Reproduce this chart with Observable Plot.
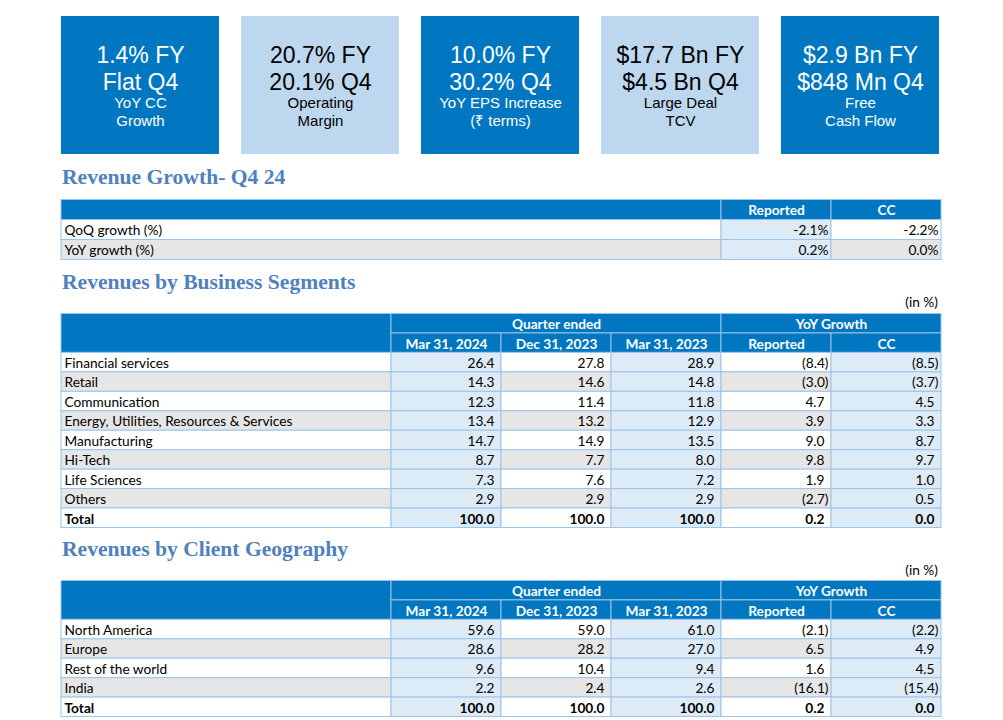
<!DOCTYPE html>
<html>
<head>
<meta charset="utf-8">
<script src="https://cdn.jsdelivr.net/npm/d3@7"></script>
<script src="https://cdn.jsdelivr.net/npm/@observablehq/plot@0.6"></script>
<style>
  body { margin: 0; background: #fff; }
  #page { position: relative; width: 1003px; height: 720px; overflow: hidden; }
  .blk { position: absolute; left: 0; }
  .title { position: absolute; left: 62px; font-family: "Liberation Serif", serif; font-weight: bold; font-size: 21.6px; line-height: 22px; color: #4f81bd; white-space: nowrap; }
  .unit { position: absolute; right: 65px; font-family: Lato, sans-serif; font-size: 13.7px; line-height: 14px; color: #000; }
  svg { display: block; }
</style>
</head>
<body>
<div id="page">
  <div class="blk" id="kpi" style="top:0"></div>
  <div class="title" style="top:166px">Revenue Growth- Q4 24</div>
  <div class="blk" id="t1" style="top:199px"></div>
  <div class="title" style="top:271px">Revenues by Business Segments</div>
  <div class="unit" style="top:295px">(in %)</div>
  <div class="blk" id="t2" style="top:313px"></div>
  <div class="title" style="top:538px">Revenues by Client Geography</div>
  <div class="unit" style="top:563px">(in %)</div>
  <div class="blk" id="t3" style="top:580px"></div>
</div>
<script>
// ---------- DATA ----------
const kpiHeadline = ["1.4% FY\nFlat Q4", "20.7% FY\n20.1% Q4", "10.0% FY\n30.2% Q4", "$17.7 Bn FY\n$4.5 Bn Q4", "$2.9 Bn FY\n$848 Mn Q4"];
const kpiCaption = ["YoY CC\nGrowth", "Operating\nMargin", "YoY EPS Increase\n(₹ terms)", "Large Deal\nTCV", "Free\nCash Flow"];

const growthRows = ["QoQ growth (%)", "YoY growth (%)"];
const growthHeaders = ["Reported", "CC"];
const growthReported = [-2.1, 0.2];
const growthCC = [-2.2, 0.0];

const periodGroups = ["Quarter ended", "YoY Growth"];
const columnHeaders = ["Mar 31, 2024", "Dec 31, 2023", "Mar 31, 2023", "Reported", "CC"];

const segmentNames = ["Financial services", "Retail", "Communication", "Energy, Utilities, Resources & Services", "Manufacturing", "Hi-Tech", "Life Sciences", "Others", "Total"];
const segMar2024 = [26.4, 14.3, 12.3, 13.4, 14.7, 8.7, 7.3, 2.9, 100.0];
const segDec2023 = [27.8, 14.6, 11.4, 13.2, 14.9, 7.7, 7.6, 2.9, 100.0];
const segMar2023 = [28.9, 14.8, 11.8, 12.9, 13.5, 8.0, 7.2, 2.9, 100.0];
const segYoYReported = [-8.4, -3.0, 4.7, 3.9, 9.0, 9.8, 1.9, -2.7, 0.2];
const segYoYCC = [-8.5, -3.7, 4.5, 3.3, 8.7, 9.7, 1.0, 0.5, 0.0];

const geoNames = ["North America", "Europe", "Rest of the world", "India", "Total"];
const geoMar2024 = [59.6, 28.6, 9.6, 2.2, 100.0];
const geoDec2023 = [59.0, 28.2, 10.4, 2.4, 100.0];
const geoMar2023 = [61.0, 27.0, 9.4, 2.6, 100.0];
const geoYoYReported = [-2.1, 6.5, 1.6, -16.1, 0.2];
const geoYoYCC = [-2.2, 4.9, 4.5, -15.4, 0.0];

// ---------- STYLE ----------
const DARK = "#0077c0", LIGHT_TILE = "#bdd7ee", BLUE = "#ddebf7", GRAY = "#e7e6e6", WHITE = "#ffffff", BORDER = "#9dc3e6";
const W = 1003;
const FS = 13.7;

// ---------- KPI tiles ----------
const tiles = kpiHeadline.map((h, i) => ({id: i, headline: h, caption: kpiCaption[i], dark: i % 2 === 0}));
document.getElementById("kpi").append(Plot.plot({
  width: W, height: 170, marginLeft: 61, marginRight: 64, marginTop: 16, marginBottom: 16,
  style: {fontFamily: "'Liberation Sans', Arial, sans-serif", background: "white"},
  x: {type: "band", domain: tiles.map(d => d.id), paddingInner: 22 / 180, paddingOuter: 0, round: false, axis: null},
  color: {type: "identity"},
  marks: [
    Plot.cell(tiles, {x: "id", fill: d => d.dark ? DARK : LIGHT_TILE, inset: 0}),
    Plot.text(tiles, {x: "id", text: "headline", frameAnchor: "top", dy: 51, lineAnchor: "middle", lineHeight: 1.2, fontSize: 23, fill: d => d.dark ? "#ffffff" : "#000000"}),
    Plot.text(tiles, {x: "id", text: "caption", frameAnchor: "top", dy: 95, lineAnchor: "middle", lineHeight: 1.15, fontSize: 15, fill: d => d.dark ? "#ffffff" : "#000000"})
  ]
}));

// ---------- tables ----------
const fmt = v => v < 0 ? `(${Math.abs(v).toFixed(1)})` : v.toFixed(1);
const pct = v => v.toFixed(1) + "%";

function tableMarks(cells) {
  const mid = d => (d.y1 + d.y2) / 2;
  const common = {y: mid, fontSize: FS, dy: 1};
  const marks = [Plot.rect(cells, {x1: "x1", x2: "x2", y1: "y1", y2: "y2", fill: "fill", stroke: BORDER, strokeWidth: 1})];
  const withText = cells.filter(d => d.text != null);
  marks.push(Plot.text(withText.filter(d => d.kind === "head"), {...common, x: d => (d.x1 + d.x2) / 2, text: "text", fill: "#ffffff", fontWeight: "bold", textAnchor: "middle"}));
  for (const bold of [false, true]) {
    const fw = bold ? "bold" : "normal";
    const sub = withText.filter(d => !!d.bold === bold);
    marks.push(Plot.text(sub.filter(d => d.kind === "label"), {...common, x: "x1", dx: 3, text: "text", fill: "#000", fontWeight: fw, textAnchor: "start"}));
    marks.push(Plot.text(sub.filter(d => d.kind === "num"), {...common, x: "x2", dx: -7, text: "text", fill: "#000", fontWeight: fw, textAnchor: "end"}));
    marks.push(Plot.text(sub.filter(d => d.kind === "neg"), {...common, x: "x2", dx: -3, text: "text", fill: "#000", fontWeight: fw, textAnchor: "end"}));
  }
  return marks;
}

function tablePlot(cells, nRows, height) {
  return Plot.plot({
    width: W, height, marginLeft: 61, marginRight: 62, marginTop: 0.5, marginBottom: 0.5,
    style: {fontFamily: "Lato, sans-serif", background: "white"},
    x: {domain: [0, 8], axis: null},
    y: {domain: [0, nRows], reverse: true, axis: null},
    color: {type: "identity"},
    marks: tableMarks(cells)
  });
}

// Revenue growth table
const t1 = [];
t1.push({x1: 0, x2: 6, y1: 0, y2: 1, fill: DARK});
growthHeaders.forEach((h, j) => t1.push({x1: 6 + j, x2: 7 + j, y1: 0, y2: 1, fill: DARK, text: h, kind: "head"}));
growthRows.forEach((name, i) => {
  const zebra = i % 2 ? GRAY : WHITE;
  t1.push({x1: 0, x2: 6, y1: 1 + i, y2: 2 + i, fill: zebra, text: name, kind: "label"});
  [growthReported, growthCC].forEach((col, j) => {
    t1.push({x1: 6 + j, x2: 7 + j, y1: 1 + i, y2: 2 + i, fill: j === 0 ? BLUE : zebra, text: pct(col[i]), kind: "neg"});
  });
});
document.getElementById("t1").append(tablePlot(t1, 3, 61));

function bigTable(names, cols) {
  const cells = [];
  cells.push({x1: 0, x2: 3, y1: 0, y2: 2, fill: DARK});
  cells.push({x1: 3, x2: 6, y1: 0, y2: 1, fill: DARK, text: periodGroups[0], kind: "head"});
  cells.push({x1: 6, x2: 8, y1: 0, y2: 1, fill: DARK, text: periodGroups[1], kind: "head"});
  columnHeaders.forEach((h, j) => cells.push({x1: 3 + j, x2: 4 + j, y1: 1, y2: 2, fill: DARK, text: h, kind: "head"}));
  names.forEach((name, i) => {
    const zebra = i % 2 ? GRAY : WHITE;
    const bold = name === "Total";
    cells.push({x1: 0, x2: 3, y1: 2 + i, y2: 3 + i, fill: zebra, text: name, kind: "label", bold});
    cols.forEach((col, j) => {
      const v = col[i];
      cells.push({x1: 3 + j, x2: 4 + j, y1: 2 + i, y2: 3 + i, fill: j % 2 === 0 ? BLUE : zebra, text: fmt(v), kind: v < 0 ? "neg" : "num", bold});
    });
  });
  return cells;
}

document.getElementById("t2").append(tablePlot(bigTable(segmentNames, [segMar2024, segDec2023, segMar2023, segYoYReported, segYoYCC]), 11, 215));
document.getElementById("t3").append(tablePlot(bigTable(geoNames, [geoMar2024, geoDec2023, geoMar2023, geoYoYReported, geoYoYCC]), 7, 137));
</script>
</body>
</html>
